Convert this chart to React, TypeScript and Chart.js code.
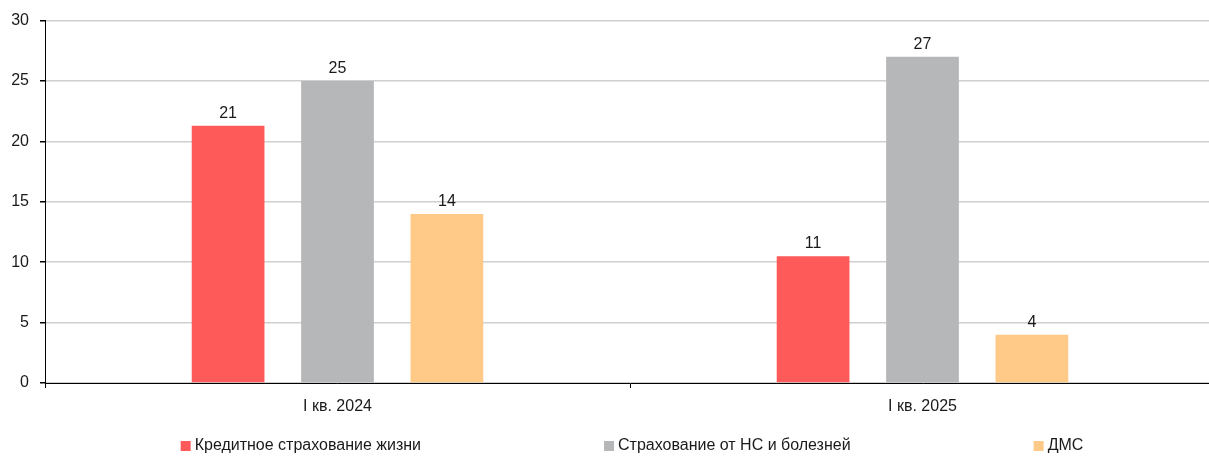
import React, { useEffect, useRef } from "react";
import { Chart, registerables, Plugin } from "chart.js";

Chart.register(...registerables);

const categories = ["I кв. 2024", "I кв. 2025"];
const seriesNames = [
  "Кредитное страхование жизни",
  "Страхование от НС и болезней",
  "ДМС",
];
const creditLife = [21.3, 10.5];
const accidentIllness = [25, 27];
const voluntaryHealth = [14, 4];
const yTicks = [0, 5, 10, 15, 20, 25, 30];

const colors = ["#FF5A5A", "#B6B7B9", "#FFCA88"];
const FONT = "'Liberation Sans', Arial, sans-serif";

// Rounded value labels above each bar
const valueLabels: Plugin<"bar"> = {
  id: "valueLabels",
  afterDatasetsDraw(chart) {
    const ctx = chart.ctx;
    ctx.save();
    ctx.font = `16px ${FONT}`;
    ctx.fillStyle = "#1a1a1a";
    ctx.textAlign = "center";
    ctx.textBaseline = "alphabetic";
    chart.data.datasets.forEach((ds, di) => {
      const meta = chart.getDatasetMeta(di);
      meta.data.forEach((bar: any, i) => {
        const v = ds.data[i] as number;
        ctx.fillText(String(Math.round(v)), bar.x, bar.y - 8);
      });
    });
    ctx.restore();
  },
};

// Legend row spread across the bottom of the chart
const spreadLegend: Plugin<"bar"> = {
  id: "spreadLegend",
  afterDraw(chart) {
    const ctx = chart.ctx;
    ctx.save();
    ctx.font = `16px ${FONT}`;
    ctx.textBaseline = "middle";
    ctx.textAlign = "left";
    const box = 10;
    const gapText = 4;
    const gapItems = 183;
    const items = chart.data.datasets.map((ds) => {
      const label = String(ds.label);
      return { label, color: ds.backgroundColor as string, w: box + gapText + ctx.measureText(label).width };
    });
    const total = items.reduce((s, it) => s + it.w, 0) + gapItems * (items.length - 1);
    let x = 632 - total / 2;
    const y = 446;
    items.forEach((it) => {
      ctx.fillStyle = it.color;
      ctx.fillRect(x, y - box / 2, box, box);
      ctx.fillStyle = "#1a1a1a";
      ctx.fillText(it.label, x + box + gapText, y);
      x += it.w + gapItems;
    });
    ctx.restore();
  },
};

export default function App() {
  const ref = useRef<HTMLCanvasElement>(null);

  useEffect(() => {
    if (!ref.current) return;
    const seriesData = [creditLife, accidentIllness, voluntaryHealth];
    const chart = new Chart(ref.current, {
      type: "bar",
      data: {
        labels: categories,
        datasets: seriesNames.map((name, i) => ({
          label: name,
          data: seriesData[i],
          backgroundColor: colors[i],
          borderWidth: 0,
          categoryPercentage: 0.561,
          barPercentage: 0.665,
        })),
      },
      options: {
        responsive: false,
        animation: false,
        layout: { padding: { top: 20, bottom: 33, left: 0, right: 0 } },
        plugins: {
          legend: { display: false },
          tooltip: { enabled: false },
        },
        scales: {
          x: {
            grid: {
              offset: true,
              drawOnChartArea: false,
              drawTicks: true,
              tickLength: 5,
              tickColor: "#000",
            },
            border: { color: "#000", width: 1 },
            ticks: {
              color: "#1a1a1a",
              font: { family: FONT, size: 16 },
              padding: 9,
            },
            afterFit(scale) {
              scale.height = 40;
            },
          },
          y: {
            min: 0,
            max: 30,
            afterBuildTicks(scale) {
              scale.ticks = yTicks.map((v) => ({ value: v }));
            },
            grid: {
              color: "#CFCFCF",
              lineWidth: 1.5,
              tickLength: 5,
              tickColor: "#000",
            },
            border: { color: "#000", width: 1 },
            ticks: {
              color: "#1a1a1a",
              font: { family: FONT, size: 16 },
              padding: 11,
            },
            afterFit(scale) {
              scale.width = 45;
            },
          },
        },
      },
      plugins: [valueLabels, spreadLegend],
    });
    return () => chart.destroy();
  }, []);

  return (
    <div
      style={{
        position: "fixed",
        left: 0,
        top: 0,
        width: 1209,
        height: 456,
        overflow: "hidden",
        background: "#fff",
      }}
    >
      <canvas ref={ref} width={1215} height={456} style={{ display: "block" }} />
    </div>
  );
}
